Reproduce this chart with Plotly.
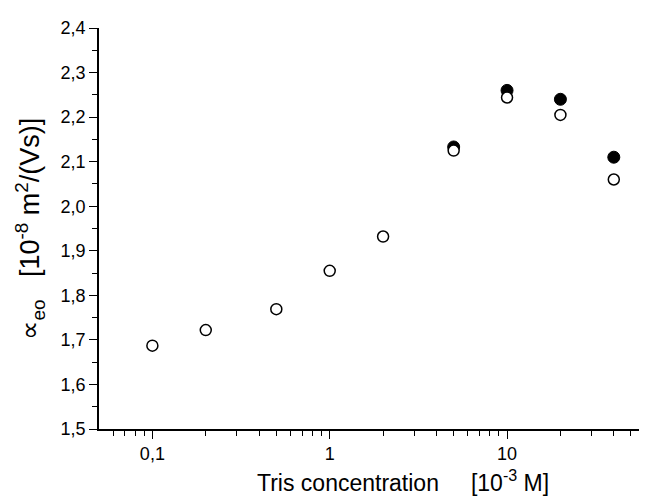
import plotly.graph_objects as go

conc_open = [0.1, 0.2, 0.5, 1, 2, 5, 10, 20, 40]
mob_open = [1.687, 1.722, 1.769, 1.855, 1.932, 2.125, 2.244, 2.205, 2.060]
conc_filled = [5, 10, 20, 40]
mob_filled = [2.133, 2.260, 2.240, 2.110]

x_tickvals = [0.1, 1, 10]
x_ticktext = ["0,1", "1", "10"]
x_minor_vals = [0.06, 0.07, 0.08, 0.09, 0.2, 0.3, 0.4, 0.5, 0.6, 0.7, 0.8, 0.9,
                2, 3, 4, 5, 6, 7, 8, 9, 20, 30, 40, 50, 60]

x_title = "Tris concentration\u00a0\u00a0\u00a0\u00a0\u00a0[10<sup>-3</sup> M]"
y_title = "∝<sub>eo</sub>\u00a0\u00a0\u00a0[10<sup>-8</sup> m<sup>2</sup>/(Vs)]"

font = "Liberation Sans, Arial, sans-serif"

fig = go.Figure()
fig.add_trace(go.Scatter(x=conc_filled, y=mob_filled, mode="markers",
                         marker=dict(symbol="circle", size=12, color="black",
                                     line=dict(color="black", width=1)),
                         showlegend=False))
fig.add_trace(go.Scatter(x=conc_open, y=mob_open, mode="markers",
                         marker=dict(symbol="circle", size=11, color="white",
                                     line=dict(color="black", width=1.5)),
                         showlegend=False))

fig.update_layout(
    width=647, height=498,
    margin=dict(l=91, r=10, t=13, b=77),
    paper_bgcolor="white", plot_bgcolor="white",
    separators=",.",
    font=dict(family=font, size=18, color="black"),
    xaxis=dict(type="log", range=[-1.301, 1.778],
               tickvals=x_tickvals, ticktext=x_ticktext,
               ticks="outside", ticklen=8, tickwidth=1.3, tickcolor="black",
               minor=dict(ticks="outside", ticklen=5, tickwidth=1.3, tickcolor="black",
                          tickvals=x_minor_vals, showgrid=False),
               showline=True, linecolor="black", linewidth=1.5,
               showgrid=False, zeroline=False),
    yaxis=dict(range=[1.5, 2.4], dtick=0.1, tickformat=".1f",
               ticks="outside", ticklen=8, tickwidth=1.3, tickcolor="black",
               minor=dict(ticks="outside", ticklen=5, tickwidth=1.3, tickcolor="black",
                          dtick=0.05, showgrid=False),
               showline=True, linecolor="black", linewidth=1.5,
               showgrid=False, zeroline=False),
    annotations=[
        dict(text=x_title, xref="paper", yref="paper", x=0.557, y=-0.13,
             xanchor="center", yanchor="middle", showarrow=False,
             font=dict(size=23)),
        dict(text=y_title, xref="paper", yref="paper", x=-0.128, y=0.5,
             xanchor="center", yanchor="middle", showarrow=False, textangle=-90,
             font=dict(size=27)),
    ],
)

fig.write_html("out.html")
